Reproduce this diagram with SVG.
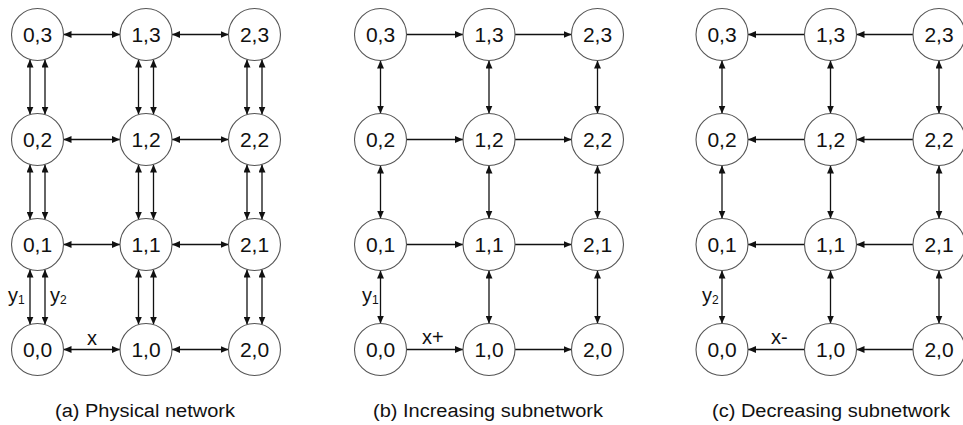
<svg xmlns="http://www.w3.org/2000/svg" width="963" height="425" viewBox="0 0 963 425">
<defs>
<marker id="ah" viewBox="0 0 8 7" refX="8" refY="3.5" markerWidth="8" markerHeight="7" markerUnits="userSpaceOnUse" orient="auto-start-reverse"><path d="M0,0 L8,3.5 L0,7 z" fill="#111"/></marker>
</defs>
<style>
.n circle{fill:#fff;stroke:#555;stroke-width:1.1}
.n text{font-family:"Liberation Sans",Arial,sans-serif;font-size:21px;fill:#111;text-anchor:middle}
.e line{stroke:#111;stroke-width:1.3;fill:none}
.d{marker-start:url(#ah);marker-end:url(#ah)}
.s{marker-end:url(#ah)}
.lbl{font-family:"Liberation Sans",Arial,sans-serif;font-size:20px;fill:#111}
.sub{font-size:12px}
.cap{font-family:"Liberation Sans",Arial,sans-serif;font-size:18px;fill:#111;text-anchor:middle}
</style>
<rect width="963" height="425" fill="#fff"/>
<g id="connectors" class="e">
<line class="d" x1="63.5" y1="34.5" x2="120" y2="34.5"/><line class="d" x1="172" y1="34.5" x2="228.5" y2="34.5"/>
<line class="d" x1="63.5" y1="139.5" x2="120" y2="139.5"/><line class="d" x1="172" y1="139.5" x2="228.5" y2="139.5"/>
<line class="d" x1="63.5" y1="244.5" x2="120" y2="244.5"/><line class="d" x1="172" y1="244.5" x2="228.5" y2="244.5"/>
<line class="d" x1="63.5" y1="349.5" x2="120" y2="349.5"/><line class="d" x1="172" y1="349.5" x2="228.5" y2="349.5"/>
<line class="d" x1="30" y1="59.5" x2="30" y2="114.5"/><line class="d" x1="45" y1="59.5" x2="45" y2="114.5"/>
<line class="d" x1="138.5" y1="59.5" x2="138.5" y2="114.5"/><line class="d" x1="153.5" y1="59.5" x2="153.5" y2="114.5"/>
<line class="d" x1="247" y1="59.5" x2="247" y2="114.5"/><line class="d" x1="262" y1="59.5" x2="262" y2="114.5"/>
<line class="d" x1="30" y1="164.5" x2="30" y2="219.5"/><line class="d" x1="45" y1="164.5" x2="45" y2="219.5"/>
<line class="d" x1="138.5" y1="164.5" x2="138.5" y2="219.5"/><line class="d" x1="153.5" y1="164.5" x2="153.5" y2="219.5"/>
<line class="d" x1="247" y1="164.5" x2="247" y2="219.5"/><line class="d" x1="262" y1="164.5" x2="262" y2="219.5"/>
<line class="d" x1="30" y1="269.5" x2="30" y2="324.5"/><line class="d" x1="45" y1="269.5" x2="45" y2="324.5"/>
<line class="d" x1="138.5" y1="269.5" x2="138.5" y2="324.5"/><line class="d" x1="153.5" y1="269.5" x2="153.5" y2="324.5"/>
<line class="d" x1="247" y1="269.5" x2="247" y2="324.5"/><line class="d" x1="262" y1="269.5" x2="262" y2="324.5"/>
<line class="s" x1="406.5" y1="34.5" x2="463" y2="34.5"/><line class="s" x1="515" y1="34.5" x2="571.5" y2="34.5"/>
<line class="s" x1="406.5" y1="139.5" x2="463" y2="139.5"/><line class="s" x1="515" y1="139.5" x2="571.5" y2="139.5"/>
<line class="s" x1="406.5" y1="244.5" x2="463" y2="244.5"/><line class="s" x1="515" y1="244.5" x2="571.5" y2="244.5"/>
<line class="s" x1="406.5" y1="349.5" x2="463" y2="349.5"/><line class="s" x1="515" y1="349.5" x2="571.5" y2="349.5"/>
<line class="d" x1="380.5" y1="60.5" x2="380.5" y2="113.5"/><line class="d" x1="489" y1="60.5" x2="489" y2="113.5"/><line class="d" x1="597.5" y1="60.5" x2="597.5" y2="113.5"/>
<line class="d" x1="380.5" y1="165.5" x2="380.5" y2="218.5"/><line class="d" x1="489" y1="165.5" x2="489" y2="218.5"/><line class="d" x1="597.5" y1="165.5" x2="597.5" y2="218.5"/>
<line class="d" x1="380.5" y1="270.5" x2="380.5" y2="323.5"/><line class="d" x1="489" y1="270.5" x2="489" y2="323.5"/><line class="d" x1="597.5" y1="270.5" x2="597.5" y2="323.5"/>
<line class="s" x1="804.5" y1="34.5" x2="748" y2="34.5"/><line class="s" x1="913" y1="34.5" x2="856.5" y2="34.5"/>
<line class="s" x1="804.5" y1="139.5" x2="748" y2="139.5"/><line class="s" x1="913" y1="139.5" x2="856.5" y2="139.5"/>
<line class="s" x1="804.5" y1="244.5" x2="748" y2="244.5"/><line class="s" x1="913" y1="244.5" x2="856.5" y2="244.5"/>
<line class="s" x1="804.5" y1="349.5" x2="748" y2="349.5"/><line class="s" x1="913" y1="349.5" x2="856.5" y2="349.5"/>
<line class="d" x1="722" y1="60.5" x2="722" y2="113.5"/><line class="d" x1="830.5" y1="60.5" x2="830.5" y2="113.5"/><line class="d" x1="939" y1="60.5" x2="939" y2="113.5"/>
<line class="d" x1="722" y1="165.5" x2="722" y2="218.5"/><line class="d" x1="830.5" y1="165.5" x2="830.5" y2="218.5"/><line class="d" x1="939" y1="165.5" x2="939" y2="218.5"/>
<line class="d" x1="722" y1="270.5" x2="722" y2="323.5"/><line class="d" x1="830.5" y1="270.5" x2="830.5" y2="323.5"/><line class="d" x1="939" y1="270.5" x2="939" y2="323.5"/>
</g>
<g id="a03" class="n"><circle cx="37.5" cy="34.5" r="26"/><text x="37.5" y="42">0,3</text></g>
<g id="a13" class="n"><circle cx="146" cy="34.5" r="26"/><text x="146" y="42">1,3</text></g>
<g id="a23" class="n"><circle cx="254.5" cy="34.5" r="26"/><text x="254.5" y="42">2,3</text></g>
<g id="a02" class="n"><circle cx="37.5" cy="139.5" r="26"/><text x="37.5" y="147">0,2</text></g>
<g id="a12" class="n"><circle cx="146" cy="139.5" r="26"/><text x="146" y="147">1,2</text></g>
<g id="a22" class="n"><circle cx="254.5" cy="139.5" r="26"/><text x="254.5" y="147">2,2</text></g>
<g id="a01" class="n"><circle cx="37.5" cy="244.5" r="26"/><text x="37.5" y="252">0,1</text></g>
<g id="a11" class="n"><circle cx="146" cy="244.5" r="26"/><text x="146" y="252">1,1</text></g>
<g id="a21" class="n"><circle cx="254.5" cy="244.5" r="26"/><text x="254.5" y="252">2,1</text></g>
<g id="a00" class="n"><circle cx="37.5" cy="349.5" r="26"/><text x="37.5" y="357">0,0</text></g>
<g id="a10" class="n"><circle cx="146" cy="349.5" r="26"/><text x="146" y="357">1,0</text></g>
<g id="a20" class="n"><circle cx="254.5" cy="349.5" r="26"/><text x="254.5" y="357">2,0</text></g>
<g id="b03" class="n"><circle cx="380.5" cy="34.5" r="26"/><text x="380.5" y="42">0,3</text></g>
<g id="b13" class="n"><circle cx="489" cy="34.5" r="26"/><text x="489" y="42">1,3</text></g>
<g id="b23" class="n"><circle cx="597.5" cy="34.5" r="26"/><text x="597.5" y="42">2,3</text></g>
<g id="b02" class="n"><circle cx="380.5" cy="139.5" r="26"/><text x="380.5" y="147">0,2</text></g>
<g id="b12" class="n"><circle cx="489" cy="139.5" r="26"/><text x="489" y="147">1,2</text></g>
<g id="b22" class="n"><circle cx="597.5" cy="139.5" r="26"/><text x="597.5" y="147">2,2</text></g>
<g id="b01" class="n"><circle cx="380.5" cy="244.5" r="26"/><text x="380.5" y="252">0,1</text></g>
<g id="b11" class="n"><circle cx="489" cy="244.5" r="26"/><text x="489" y="252">1,1</text></g>
<g id="b21" class="n"><circle cx="597.5" cy="244.5" r="26"/><text x="597.5" y="252">2,1</text></g>
<g id="b00" class="n"><circle cx="380.5" cy="349.5" r="26"/><text x="380.5" y="357">0,0</text></g>
<g id="b10" class="n"><circle cx="489" cy="349.5" r="26"/><text x="489" y="357">1,0</text></g>
<g id="b20" class="n"><circle cx="597.5" cy="349.5" r="26"/><text x="597.5" y="357">2,0</text></g>
<g id="c03" class="n"><circle cx="722" cy="34.5" r="26"/><text x="722" y="42">0,3</text></g>
<g id="c13" class="n"><circle cx="830.5" cy="34.5" r="26"/><text x="830.5" y="42">1,3</text></g>
<g id="c23" class="n"><circle cx="939" cy="34.5" r="26"/><text x="939" y="42">2,3</text></g>
<g id="c02" class="n"><circle cx="722" cy="139.5" r="26"/><text x="722" y="147">0,2</text></g>
<g id="c12" class="n"><circle cx="830.5" cy="139.5" r="26"/><text x="830.5" y="147">1,2</text></g>
<g id="c22" class="n"><circle cx="939" cy="139.5" r="26"/><text x="939" y="147">2,2</text></g>
<g id="c01" class="n"><circle cx="722" cy="244.5" r="26"/><text x="722" y="252">0,1</text></g>
<g id="c11" class="n"><circle cx="830.5" cy="244.5" r="26"/><text x="830.5" y="252">1,1</text></g>
<g id="c21" class="n"><circle cx="939" cy="244.5" r="26"/><text x="939" y="252">2,1</text></g>
<g id="c00" class="n"><circle cx="722" cy="349.5" r="26"/><text x="722" y="357">0,0</text></g>
<g id="c10" class="n"><circle cx="830.5" cy="349.5" r="26"/><text x="830.5" y="357">1,0</text></g>
<g id="c20" class="n"><circle cx="939" cy="349.5" r="26"/><text x="939" y="357">2,0</text></g>
<g id="labels">
<text class="lbl" x="8" y="302">y<tspan class="sub" dy="2">1</tspan></text>
<text class="lbl" x="50" y="302">y<tspan class="sub" dy="2">2</tspan></text>
<text class="lbl" x="87" y="345">x</text>
<text class="lbl" x="362" y="302">y<tspan class="sub" dy="2">1</tspan></text>
<text class="lbl" x="422" y="344">x+</text>
<text class="lbl" x="702" y="302">y<tspan class="sub" dy="2">2</tspan></text>
<text class="lbl" x="771" y="344">x-</text>
</g>
<g id="captions">
<text class="cap" x="145" y="417" textLength="180" lengthAdjust="spacingAndGlyphs">(a) Physical network</text>
<text class="cap" x="488" y="417" textLength="230" lengthAdjust="spacingAndGlyphs">(b) Increasing subnetwork</text>
<text class="cap" x="831" y="417" textLength="238" lengthAdjust="spacingAndGlyphs">(c) Decreasing subnetwork</text>
</g>
</svg>
